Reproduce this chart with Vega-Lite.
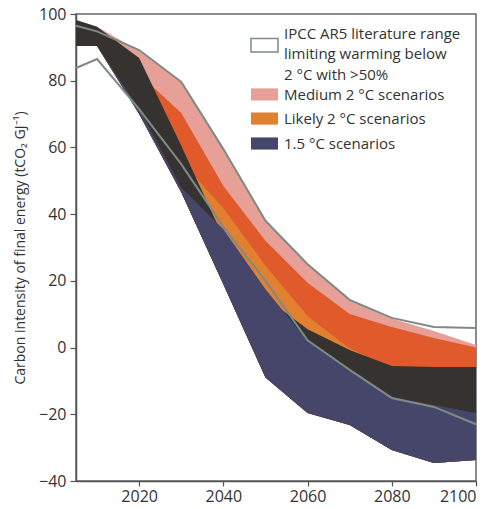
{
  "$schema": "https://vega.github.io/schema/vega-lite/v6.json",
  "width": 400,
  "height": 467,
  "autosize": {"type": "none"},
  "padding": {"left": 76, "top": 14, "right": 19, "bottom": 28},
  "background": "white",
  "config": {
    "view": {"stroke": "#666", "strokeWidth": 1.5},
    "font": "Open Sans",
    "axis": {"domainColor": "#555", "domainWidth": 1.5, "tickColor": "#555", "tickWidth": 1.2, "labelColor": "#333", "labelFont": "Open Sans", "labelFontSize": 16, "titleFont": "Open Sans", "titleColor": "#333", "titleFontWeight": "normal", "grid": false}
  },
  "data": {"values": [
    {"year": 2005, "pink_top": 98.2, "redorange_top": 90.4, "orange_top": 90.4, "dark_top": 98.2, "navy_top": 90.4, "bottom": 90.4, "ipcc_hi": 96.5, "ipcc_lo": 83.8},
    {"year": 2010, "pink_top": 96.2, "redorange_top": 90.4, "orange_top": 90.4, "dark_top": 96.2, "navy_top": 90.4, "bottom": 90.4, "ipcc_hi": 94.8, "ipcc_lo": 86.5},
    {"year": 2020, "pink_top": 89.0, "redorange_top": 82.0, "orange_top": 80.0, "dark_top": 86.8, "navy_top": 71.5, "bottom": 70.0, "ipcc_hi": 89.2, "ipcc_lo": 71.5},
    {"year": 2030, "pink_top": 79.4, "redorange_top": 70.3, "orange_top": 56.0, "dark_top": 60.5, "navy_top": 48.0, "bottom": 46.6, "ipcc_hi": 79.6, "ipcc_lo": 55.0},
    {"year": 2040, "pink_top": 59.3, "redorange_top": 48.4, "orange_top": 41.8, "dark_top": 33.0, "navy_top": 35.5, "bottom": 19.0, "ipcc_hi": 59.5, "ipcc_lo": 36.2},
    {"year": 2050, "pink_top": 37.8, "redorange_top": 32.0, "orange_top": 24.5, "dark_top": 15.0, "navy_top": 17.5, "bottom": -9.0, "ipcc_hi": 38.0, "ipcc_lo": 20.0},
    {"year": 2060, "pink_top": 24.8, "redorange_top": 19.4, "orange_top": 9.5, "dark_top": 5.5, "navy_top": 2.0, "bottom": -19.6, "ipcc_hi": 25.0, "ipcc_lo": 2.2},
    {"year": 2070, "pink_top": 14.2, "redorange_top": 10.1, "orange_top": -0.3, "dark_top": -0.7, "navy_top": -7.0, "bottom": -23.2, "ipcc_hi": 14.3, "ipcc_lo": -6.7},
    {"year": 2080, "pink_top": 8.7, "redorange_top": 6.2, "orange_top": -6.0, "dark_top": -5.5, "navy_top": -14.8, "bottom": -30.7, "ipcc_hi": 8.9, "ipcc_lo": -15.1},
    {"year": 2090, "pink_top": 5.0, "redorange_top": 2.9, "orange_top": -6.5, "dark_top": -5.8, "navy_top": -17.2, "bottom": -34.6, "ipcc_hi": 6.2, "ipcc_lo": -17.8},
    {"year": 2100, "pink_top": 0.8, "redorange_top": 0.0, "orange_top": -6.5, "dark_top": -5.8, "navy_top": -19.6, "bottom": -33.7, "ipcc_hi": 5.9, "ipcc_lo": -23.0}
  ]},
  "encoding": {
    "x": {"field": "year", "type": "quantitative", "scale": {"domain": [2005, 2100], "nice": false}, "axis": {"title": null, "values": [2020, 2040, 2060, 2080, 2100], "format": "d", "tickSize": 5, "labelPadding": 2}}
  },
  "layer": [
    {
      "mark": {"type": "area"},
      "encoding": {
        "y": {"field": "pink_top", "type": "quantitative", "scale": {"domain": [-40, 100], "nice": false}, "axis": {"title": "Carbon intensity of final energy (tCO₂ GJ⁻¹)", "titleFontSize": 14, "titlePadding": 11, "values": [-40, -20, 0, 20, 40, 60, 80, 100], "tickSize": 6, "labelPadding": 4}},
        "y2": {"field": "bottom"},
        "fill": {"datum": "Medium 2 °C scenarios", "type": "nominal",
          "scale": {"domain": ["IPCC AR5 literature range limiting warming below 2 °C with >50%", "Medium 2 °C scenarios", "Likely 2 °C scenarios", "1.5 °C scenarios"], "range": ["#ffffff", "#e6a097", "#e2802f", "#46466b"]},
          "legend": {"title": null, "orient": "none", "legendX": 174, "legendY": 11,
            "symbolType": "M-1,-0.45H1V0.45H-1Z", "symbolSize": 729, "symbolStrokeWidth": 1.5, "symbolOpacity": 1,
            "labelFont": "Open Sans", "labelFontSize": 15, "labelColor": "#333", "labelLimit": 300, "labelOffset": 5, "rowPadding": 1,
            "labelExpr": "datum.index === 0 ? ['IPCC AR5 literature range', 'limiting warming below', '2 °C with >50%'] : datum.label",
            "encode": {
              "symbols": {"update": {
                "stroke": {"signal": "datum.index === 0 ? '#7e8b85' : 'transparent'"},
                "shape": {"signal": "datum.index === 0 ? 'M-1,-0.08H1V0.92H-1Z' : datum.index === 1 ? 'M-1,-0.75H1V0.15H-1Z' : datum.index === 2 ? 'M-1,-0.52H1V0.38H-1Z' : 'M-1,-0.45H1V0.45H-1Z'"}
              }},
              "labels": {"update": {"lineHeight": {"value": 20.5}, "dy": {"signal": "datum.index === 0 ? -6 : datum.index === 1 ? -4 : datum.index === 2 ? -1 : 0"}}}
            }}
        }
      }
    },
    {
      "mark": {"type": "area", "fill": "#e05a2b"},
      "encoding": {"y": {"field": "redorange_top", "type": "quantitative"}, "y2": {"field": "bottom"}}
    },
    {
      "mark": {"type": "area"},
      "encoding": {"y": {"field": "orange_top", "type": "quantitative"}, "y2": {"field": "bottom"}, "fill": {"datum": "Likely 2 °C scenarios", "type": "nominal"}}
    },
    {
      "mark": {"type": "area", "fill": "#36322f"},
      "encoding": {"y": {"field": "dark_top", "type": "quantitative"}, "y2": {"field": "bottom"}}
    },
    {
      "mark": {"type": "area"},
      "encoding": {"y": {"field": "navy_top", "type": "quantitative"}, "y2": {"field": "bottom"}, "fill": {"datum": "1.5 °C scenarios", "type": "nominal"}}
    },
    {
      "mark": {"type": "line", "color": "#7e8b85", "strokeWidth": 2},
      "encoding": {"y": {"field": "ipcc_hi", "type": "quantitative"}}
    },
    {
      "mark": {"type": "line", "color": "#7e8b85", "strokeWidth": 2},
      "encoding": {"y": {"field": "ipcc_lo", "type": "quantitative"}}
    }
  ]
}
